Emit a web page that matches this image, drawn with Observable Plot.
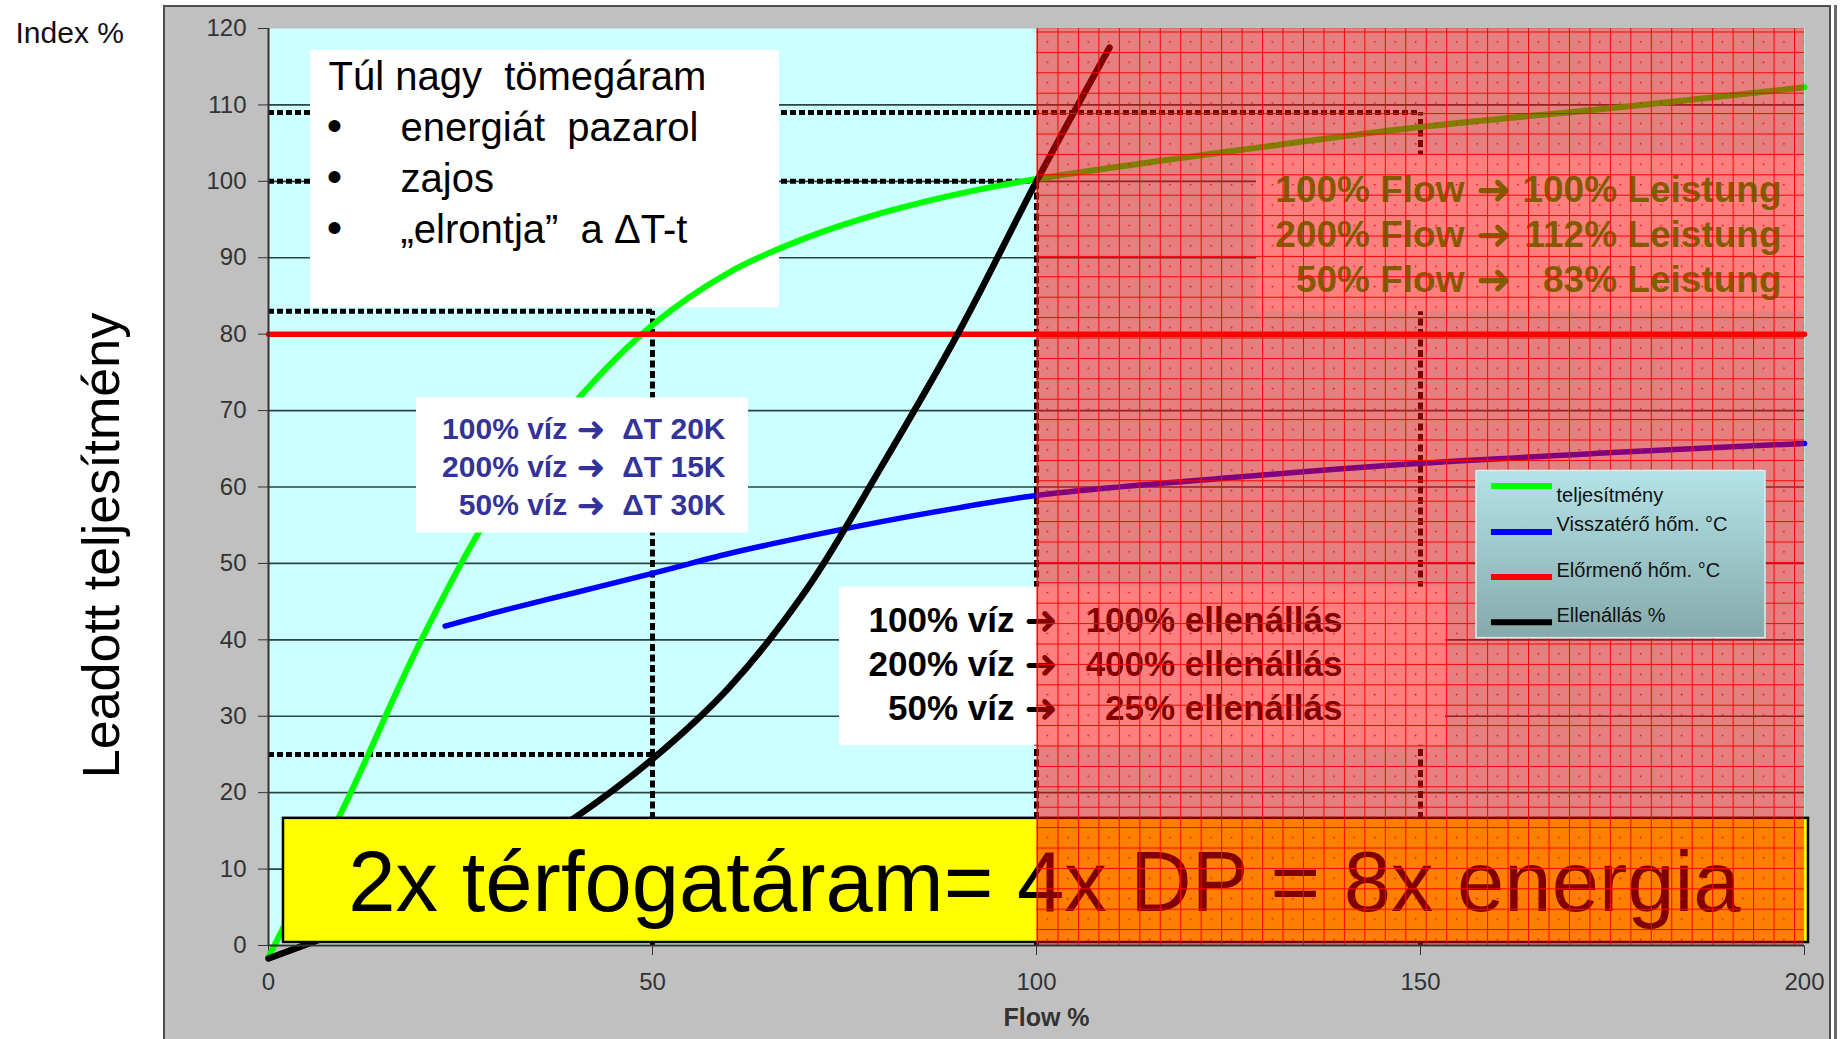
<!DOCTYPE html>
<html>
<head>
<meta charset="utf-8">
<script src="https://cdn.jsdelivr.net/npm/d3@7"></script>
<script src="https://cdn.jsdelivr.net/npm/@observablehq/plot@0.6"></script>
<style>
  html, body { margin: 0; padding: 0; background: #ffffff; }
  #wrap { position: relative; width: 1845px; height: 1039px; overflow: hidden; }
  #panel { position: absolute; left: 163px; top: 5px; width: 1668px; height: 1040px; background: #c0c0c0;
           border-left: 2px solid #4d4d4d; border-top: 2px solid #4d4d4d; border-right: 2px solid #4d4d4d; box-sizing: border-box; }
  #edge { position: absolute; left: 1834px; top: 5px; width: 3px; height: 1040px; background: #6a6a6a; }
  #chart { position: absolute; left: 0; top: 0; }
</style>
</head>
<body>
<div id="wrap"><div id="panel"></div><div id="edge"></div><div id="chart"></div></div>
<script>
const FONT = "'Liberation Sans', Arial, Helvetica, sans-serif";
const ARROW_FONT = "'DejaVu Sans', sans-serif";

// ---------------- data ----------------
const xTicks = [0, 50, 100, 150, 200];
const yTicks = [0, 10, 20, 30, 40, 50, 60, 70, 80, 90, 100, 110, 120];
const gridLevels = [10, 20, 30, 40, 50, 60, 70, 80, 90, 100, 110];

const seriesNames = ["teljesítmény", "Visszatérő hőm. °C", "Előrmenő hőm. °C", "Ellenállás %"];
const seriesColors = ["#00ff00", "#0000ff", "#ff0000", "#000000"];

const powerFlow   = [0, 10, 20, 30, 40, 50, 60, 70, 80, 90, 100, 125, 150, 175, 200];
const powerValues = [-1.5, 18.5, 40.2, 58.3, 71.2, 81.2, 88.1, 92.6, 95.9, 98.4, 100.3, 103.9, 107.1, 109.6, 112.3];

const returnFlow   = [23, 30, 40, 50, 60, 70, 80, 90, 100, 125, 150, 175, 200];
const returnValues = [41.8, 43.7, 46.2, 48.7, 51.3, 53.5, 55.5, 57.3, 58.9, 61.2, 63.1, 64.5, 65.7];

const supplyFlow   = [0, 200];
const supplyValues = [80, 80];

const resistFlow   = [0, 10, 20, 30, 40, 50, 60, 70, 80, 90, 100, 109.5];
const resistValues = [-1.7, 2, 5.5, 10.5, 16.8, 24.4, 33.8, 46.5, 63, 80.5, 100, 117.5];

const refLevels    = [109, 100, 83, 25];
const refLevelEnds = [150, 100, 50, 50];
const refFlows     = [150, 100, 50];
const refFlowTops  = [109, 100, 83];

const highFlowZone = [100, 200];

// ---------------- texts ----------------
const indexLabel = "Index %";
const yTitle = "Leadott teljesítmény";
const xTitle = "Flow %";
const tulTitle = "Túl nagy\u00a0 tömegáram";
const tulItems = ["energiát\u00a0 pazarol", "zajos", "„elrontja”\u00a0 a ΔT-t"];
const dtLeft = ["100% víz", "200% víz", "50% víz"];
const dtRight = ["ΔT 20K", "ΔT 15K", "ΔT 30K"];
const resLeft = ["100% víz", "200% víz", "50% víz"];
const resRight = ["100% ellenállás", "400% ellenállás", "25% ellenállás"];
const flowLeft = ["100% Flow", "200% Flow", "50% Flow"];
const flowRight = ["100% Leistung", "112% Leistung", "83% Leistung"];
const arrowGlyph = "➜";
const bigMessage = "2x térfogatáram= 4x DP = 8x energia";

// ---------------- annotation layout (data units) ----------------
const layout = {
  tulBox: {x1: 5.47, x2: 66.54, y1: 83.45, y2: 117.12},
  tulTitle: {x: 7.81, y: 112.0},
  tulBullet: {x: 7.6, y: 91.97},
  tulItem: {x: 17.19, y: 91.97},
  dtBox: {x1: 19.27, x2: 62.5, y1: 53.97, y2: 71.66},
  dtText: {leftEnd: 38.89, arrow: 40.1, rightEnd: 59.51, y: 56.33},
  resBox: {x1: 74.35, x2: 153.26, y1: 26.2, y2: 46.9},
  resText: {leftEnd: 97.14, arrow: 98.4, rightEnd: 139.84, y: 29.48},
  flowBox: {x1: 128.65, x2: 200, y1: 82.93, y2: 103.49},
  flowText: {leftEnd: 155.73, arrow: 157.25, rightEnd: 197.01, y: 85.55},
  bigBox: {x1: 1.95, x2: 200.52, y1: 0.39, y2: 16.64},
  bigText: {x: 101.04, y: 4.45},
  legendBox: {x1: 157.29, x2: 194.92, y1: 40.22, y2: 62.1},
  legendSwatch: {x1: 159.24, x2: 167.19, y: [60.13, 54.1, 48.21, 42.31]},
  legendText: {x: 167.71, y: [58.04, 54.24, 48.21, 42.31]}
};
const arrowScale = 1.15;

const pairs = (xs, ys) => xs.map((x, i) => ({x, y: ys[i]}));
const box = (b, opts) => Plot.rect([b], {x1: "x1", x2: "x2", y1: "y1", y2: "y2", ...opts});
const label = (lines, at, opts) =>
  Plot.text([lines.join("\n")], {x: at.x, y: at.y, lineAnchor: "bottom", fontFamily: FONT, ...opts});
const arrowLines = (left, right, at, opts) => [
  label(left, {x: at.leftEnd, y: at.y}, {...opts, textAnchor: "end"}),
  label(left.map(() => arrowGlyph), {x: at.arrow, y: at.y}, {
    ...opts, textAnchor: "start", fontFamily: ARROW_FONT, fontWeight: "normal",
    fontSize: opts.fontSize * arrowScale, lineHeight: opts.lineHeight / arrowScale, dy: 2
  }),
  label(right, {x: at.rightEnd, y: at.y}, {...opts, textAnchor: "end"})
];

const plot = Plot.plot({
  width: 1845,
  height: 1039,
  marginLeft: 268,
  marginRight: 41,
  marginTop: 28,
  marginBottom: 94,
  style: {background: "transparent", color: "#333", fontFamily: FONT, fontSize: "24px", overflow: "visible"},
  x: {domain: [0, 200], ticks: xTicks, tickSize: 10, tickPadding: 17, label: null},
  y: {domain: [0, 120], ticks: yTicks, tickSize: 10, tickPadding: 12, label: null},
  marks: [
    Plot.frame({fill: "#ccffff", stroke: "none"}),
    Plot.ruleY(gridLevels, {stroke: "#2b4545", strokeWidth: 1.6}),
    // dotted reference lines
    Plot.ruleY(refLevels, {y: d => d, x1: 0, x2: (d, i) => refLevelEnds[i], stroke: "#000", strokeWidth: 5, strokeDasharray: "6,3"}),
    Plot.ruleX(refFlows, {x: d => d, y1: 0, y2: (d, i) => refFlowTops[i], stroke: "#000", strokeWidth: 5, strokeDasharray: "7,3.5"}),
    // "Túl nagy tömegáram" box
    box(layout.tulBox, {fill: "#ffffff"}),
    label([tulTitle], layout.tulTitle, {textAnchor: "start", fontSize: 40, fill: "#000"}),
    label(tulItems.map(() => "•"), layout.tulBullet, {textAnchor: "start", fontSize: 44, lineHeight: 1.16, fill: "#000"}),
    label(tulItems, layout.tulItem, {textAnchor: "start", fontSize: 40, lineHeight: 1.275, fill: "#000"}),
    // series
    Plot.line(pairs(powerFlow, powerValues), {x: "x", y: "y", stroke: seriesColors[0], strokeWidth: 6, curve: "catmull-rom"}),
    Plot.line(pairs(returnFlow, returnValues), {x: "x", y: "y", stroke: seriesColors[1], strokeWidth: 5.5, curve: "catmull-rom"}),
    Plot.line(pairs(supplyFlow, supplyValues), {x: "x", y: "y", stroke: seriesColors[2], strokeWidth: 5.5}),
    Plot.line(pairs(resistFlow, resistValues), {x: "x", y: "y", stroke: seriesColors[3], strokeWidth: 6.5, curve: "catmull-rom"}),
    // ΔT box
    box(layout.dtBox, {fill: "#ffffff"}),
    ...arrowLines(dtLeft, dtRight, layout.dtText, {fontSize: 30, fontWeight: "bold", lineHeight: 1.2667, fill: "#333399"}),
    // resistance box
    box(layout.resBox, {fill: "#ffffff"}),
    ...arrowLines(resLeft, resRight, layout.resText, {fontSize: 35, fontWeight: "bold", lineHeight: 1.257, fill: "#000"}),
    // Leistung box
    box(layout.flowBox, {fill: "#ffffff"}),
    ...arrowLines(flowLeft, flowRight, layout.flowText, {fontSize: 37, fontWeight: "bold", lineHeight: 1.216, fill: "#00bb00"}),
    // big yellow message
    box(layout.bigBox, {fill: "#ffff00", stroke: "#000", strokeWidth: 2.5}),
    label([bigMessage], layout.bigText, {textAnchor: "middle", fontSize: 85, fill: "#000"}),
    // high-flow overlay
    Plot.rect([highFlowZone], {x1: d => d[0], x2: d => d[1], fill: "url(#redgrid)"}),
    // axis lines
    Plot.ruleX([0], {stroke: "#333", strokeWidth: 2}),
    Plot.ruleY([0], {stroke: "#333", strokeWidth: 2}),
    // legend
    box(layout.legendBox, {fill: "url(#legendGrad)", stroke: "#d6eeee", strokeWidth: 1.5}),
    ...seriesColors.map((c, i) => Plot.ruleY([layout.legendSwatch.y[i]], {
      x1: layout.legendSwatch.x1, x2: layout.legendSwatch.x2, stroke: c, strokeWidth: 6
    })),
    Plot.text(seriesNames, {x: layout.legendText.x, y: (d, i) => layout.legendText.y[i], textAnchor: "start",
      lineAnchor: "bottom", fontSize: 20, fontFamily: FONT, fill: "#111"}),
    // outside labels
    Plot.text([indexLabel], {frameAnchor: "top-left", dx: -253, dy: 14, textAnchor: "start", lineAnchor: "bottom",
      fontSize: 30, fontFamily: FONT, fill: "#111"}),
    Plot.text([yTitle], {frameAnchor: "left", rotate: -90, textAnchor: "middle", lineAnchor: "bottom",
      dx: -150, dy: 58.5, fontSize: 52, fontFamily: FONT, fill: "#000"}),
    Plot.text([xTitle], {frameAnchor: "bottom", textAnchor: "middle", lineAnchor: "bottom",
      dx: 10, dy: 80, fontSize: 25, fontWeight: "bold", fontFamily: FONT, fill: "#333"})
  ]
});

// pattern & gradient definitions
const xs = plot.scale("x"), ys = plot.scale("y");
const defs = d3.select(plot).insert("defs", ":first-child");
const cw = 20.46, ch = 20.4;
const pat = defs.append("pattern").attr("id", "redgrid").attr("patternUnits", "userSpaceOnUse")
  .attr("x", xs.apply(highFlowZone[0]) + 1).attr("y", ys.apply(120) + 3.5)
  .attr("width", cw).attr("height", ch);
pat.append("rect").attr("width", cw).attr("height", ch).attr("fill", "#ff0000").attr("fill-opacity", 0.5);
pat.append("rect").attr("width", cw).attr("height", 1).attr("fill", "#ff0000");
pat.append("rect").attr("width", 1).attr("height", ch).attr("fill", "#ff0000");
pat.append("rect").attr("x", 9.6).attr("y", 9.6).attr("width", 1.5).attr("height", 1.5).attr("fill", "#ff0000");
const grad = defs.append("linearGradient").attr("id", "legendGrad").attr("x1", 0).attr("y1", 0).attr("x2", 0).attr("y2", 1);
grad.append("stop").attr("offset", "0%").attr("stop-color", "#b3e3e8");
grad.append("stop").attr("offset", "100%").attr("stop-color", "#86a9ab");

document.getElementById("chart").append(plot);
</script>
</body>
</html>
